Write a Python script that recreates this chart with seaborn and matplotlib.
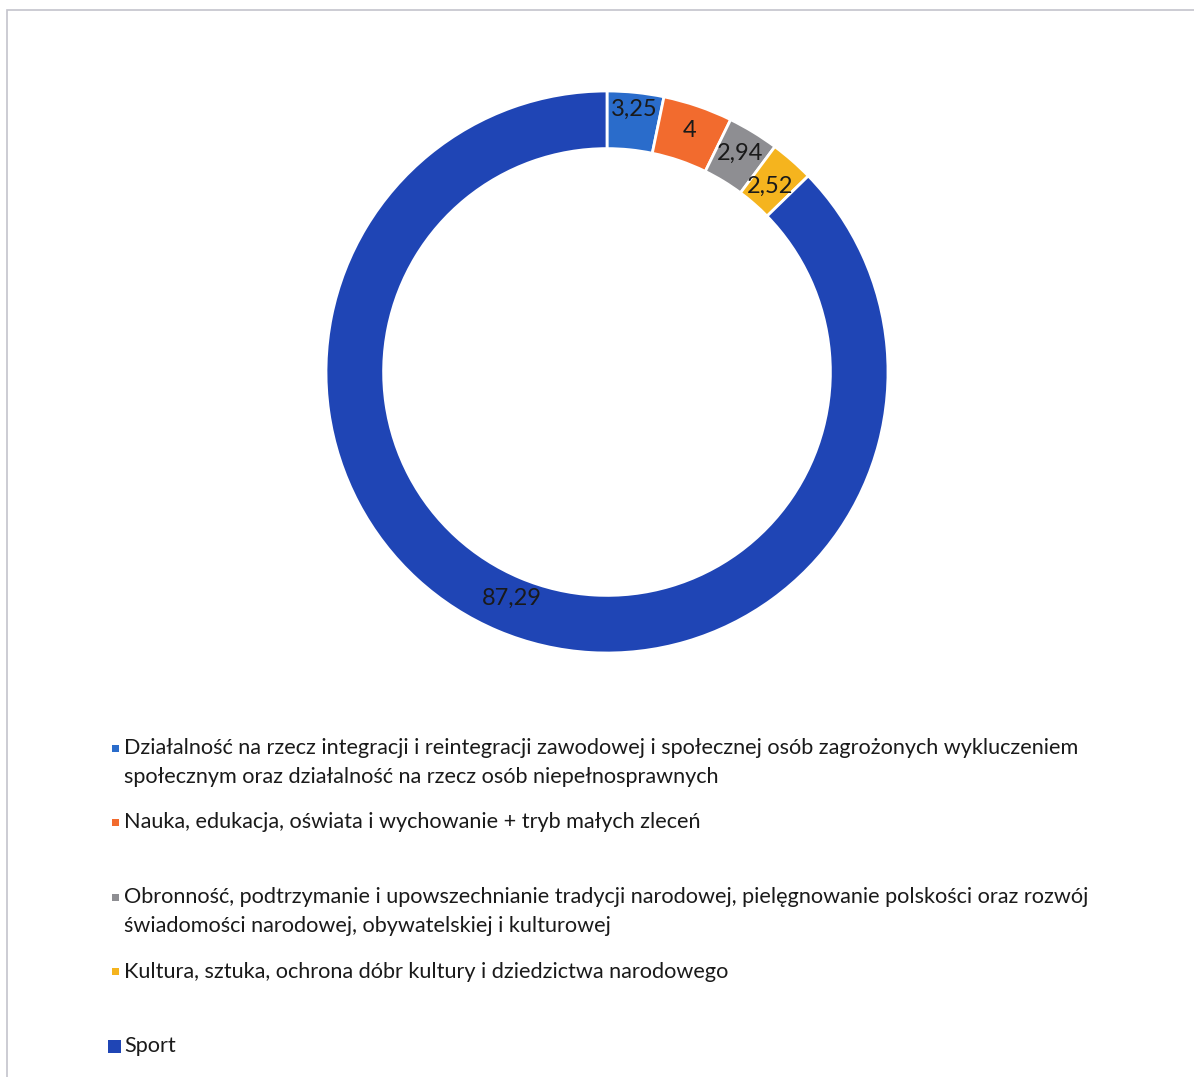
import matplotlib
matplotlib.use("Agg")
import matplotlib.pyplot as plt
import matplotlib.patches as mpatches
import numpy as np
import seaborn as sns

sns.set_theme(style="white")
plt.rcParams['font.family'] = ['Lato', 'DejaVu Sans']

# dane
categories = [
    "Działalność na rzecz integracji i reintegracji zawodowej i społecznej osób zagrożonych wykluczeniem\nspołecznym oraz działalność na rzecz osób niepełnosprawnych",
    "Nauka, edukacja, oświata i wychowanie + tryb małych zleceń",
    "Obronność, podtrzymanie i upowszechnianie tradycji narodowej, pielęgnowanie polskości oraz rozwój\nświadomości narodowej, obywatelskiej i kulturowej",
    "Kultura, sztuka, ochrona dóbr kultury i dziedzictwa narodowego",
    "Sport",
]
values = [3.25, 4, 2.94, 2.52, 87.29]
value_labels = ["3,25", "4", "2,94", "2,52", "87,29"]
colors = ["#2A6CCB", "#F26B2E", "#8E8E92", "#F5B41E", "#1F45B5"]

W, H = 1194, 1077
fig = plt.figure(figsize=(W / 100, H / 100), dpi=100)
fig.patch.set_facecolor("white")

# ramka wykresu
fig.patches.append(mpatches.Rectangle((7 / W, -0.01), 1.02, 1 - 10 / H + 0.01,
                                      transform=fig.transFigure, fill=False,
                                      edgecolor="#c4c4cc", linewidth=1.2))

# wykres pierścieniowy
cx, cy, r = 607, 372, 281
ax = fig.add_axes([(cx - r) / W, 1 - (cy + r) / H, 2 * r / W, 2 * r / H])
wedges, _ = ax.pie(values, colors=colors, startangle=90, counterclock=False,
                   radius=1, wedgeprops=dict(width=0.205, edgecolor="white", linewidth=2))
ax.set_xlim(-1, 1)
ax.set_ylim(-1, 1)
ax.set_aspect("equal")
ax.axis("off")

dist = [0.94, 0.91, 0.91, 0.88, 0.875]
for w, lab, d in zip(wedges, value_labels, dist):
    ang = np.deg2rad((w.theta1 + w.theta2) / 2)
    ax.text(d * np.cos(ang), d * np.sin(ang), lab, ha="center", va="center",
            fontsize=17, color="#1a1a1a")

# legenda
x_mark, x_text = 108, 124
y_start, step = 748, 74.5
for i, (lab, col) in enumerate(zip(categories, colors)):
    y = y_start + i * step
    s = 13 if i == len(categories) - 1 else 7
    fig.patches.append(mpatches.Rectangle(((x_mark + (4 if s == 7 else 0)) / W, 1 - (y + s / 2) / H),
                                          s / W, s / H, transform=fig.transFigure,
                                          facecolor=col, edgecolor="none"))
    fig.text(x_text / W, 1 - (y - 10) / H, lab, ha="left", va="top",
             fontsize=15.6, color="#1a1a1a", linespacing=1.56)

fig.savefig("out.png", dpi=100, facecolor="white")
